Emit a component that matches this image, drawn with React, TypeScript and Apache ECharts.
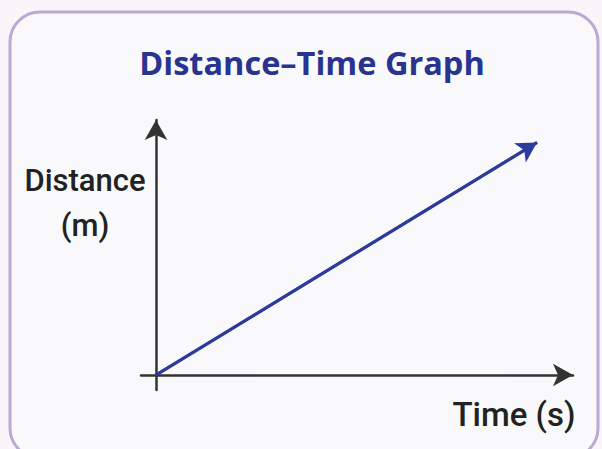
import React, { useEffect, useRef } from "react";
import * as echarts from "echarts";

const chartTitle = "Distance–Time Graph";
const xAxisLabel = "Time (s)";
const yAxisLabelLines = ["Distance", "(m)"];
const timeValues = [0, 12.7];
const distanceValues = [0, 7.75];

export default function App() {
  const ref = useRef<HTMLDivElement>(null);
  useEffect(() => {
    document.body.style.margin = "0";
    if (!ref.current) return;
    const chart = echarts.init(ref.current, undefined, { renderer: "svg" });
    const points = timeValues.map((t, i) => [t, distanceValues[i]]);
    const last = points[points.length - 1];
    chart.setOption({
      animation: false,
      backgroundColor: "#f8f6f9",
      graphic: [
        {
          type: "rect",
          z: -10,
          shape: { x: 10, y: 12, width: 588, height: 446, r: 30 },
          style: { fill: "#f9f9fb", stroke: "#b9a9d3", lineWidth: 3 },
        },
        {
          type: "text",
          style: {
            text: chartTitle,
            x: 312,
            y: 62,
            align: "center",
            verticalAlign: "middle",
            fill: "#28348f",
            font: "bold 32.5px 'Open Sans'",
          },
        },
        {
          type: "text",
          style: {
            text: yAxisLabelLines[0],
            x: 85,
            y: 180,
            align: "center",
            verticalAlign: "middle",
            fill: "#222",
            font: "500 31px Roboto",
          },
        },
        {
          type: "text",
          style: {
            text: yAxisLabelLines[1],
            x: 85,
            y: 225,
            align: "center",
            verticalAlign: "middle",
            fill: "#222",
            font: "500 31px Roboto",
          },
        },
        {
          type: "text",
          style: {
            text: xAxisLabel,
            x: 514,
            y: 414,
            align: "center",
            verticalAlign: "middle",
            fill: "#222",
            font: "500 33px Roboto",
          },
        },
      ],
      grid: { left: 141, right: 29, top: 120, bottom: 59 },
      xAxis: {
        type: "value",
        min: -0.5,
        max: 13.9,
        axisLine: {
          onZero: true,
          symbol: ["none", "arrow"],
          symbolSize: [17, 20],
          lineStyle: { color: "#333", width: 2.5 },
        },
        axisTick: { show: false },
        axisLabel: { show: false },
        splitLine: { show: false },
      },
      yAxis: {
        type: "value",
        min: -0.5,
        max: 8.5,
        axisLine: {
          show: true,
          onZero: true,
          symbol: ["none", "arrow"],
          symbolSize: [17, 20],
          lineStyle: { color: "#333", width: 2.5 },
        },
        axisTick: { show: false },
        axisLabel: { show: false },
        splitLine: { show: false },
      },
      series: [
        {
          type: "line",
          data: points,
          symbol: "none",
          lineStyle: { color: "#2c3b9c", width: 3 },
          markLine: {
            silent: true,
            symbol: ["none", "arrow"],
            symbolSize: [17, 20],
            label: { show: false },
            lineStyle: { color: "#2c3b9c", width: 3, type: "solid" },
            data: [[{ coord: points[0] }, { coord: last }]],
          },
        },
      ],
    });
    return () => chart.dispose();
  }, []);
  return <div ref={ref} style={{ width: 602, height: 449 }} />;
}
